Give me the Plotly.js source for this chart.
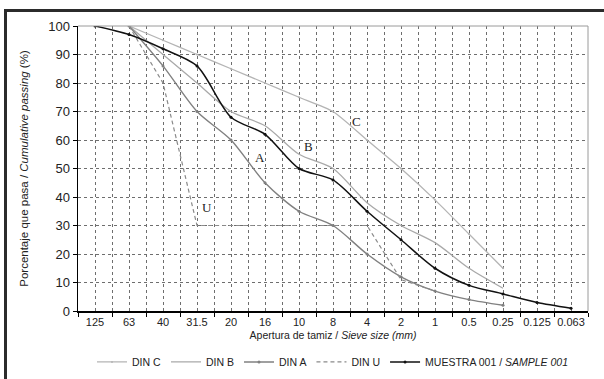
<!DOCTYPE html>
<html>
<head>
<meta charset="utf-8">
<script src="https://cdn.plot.ly/plotly-3.0.1.min.js"></script>
<style>
  html, body { margin: 0; padding: 0; background: #fff; }
  #wrap { position: relative; width: 604px; height: 379px; overflow: hidden; }
  #chart { width: 604px; height: 379px; }
  #frame { position: absolute; left: 4px; top: 9px; width: 610px; height: 380px;
           border-top: 3px solid #2b2b2b; border-left: 3px solid #2b2b2b; pointer-events: none; }
</style>
</head>
<body>
<div id="wrap">
  <div id="chart"></div>
  <div id="frame"></div>
</div>
<script>
// Sieve sizes (mm), as tick labels, from coarse to fine
const sieves = ['125', '63', '40', '31.5', '20', '16', '10', '8', '4', '2', '1', '0.5', '0.25', '0.125', '0.063'];

// Cumulative passing (%) per sieve
const dinC    = [null, 100, 95, 90, 85, 80, 75, 70, 60, 50, 39, 27, 15, null, null];
const dinB    = [null, 100, 90, 80, 70, 65, 55, 50, 38, 30, 24, 15, 8, null, null];
const dinA    = [null, 100, 86, 70, 60, 45, 35, 30, 20, 12, 7, 4, 2, null, null];
const dinU    = [null, 100, 80, 30, 30, 30, 30, 30, 30, 11, 7, null, null, null, null];
const muestra = [100, 97, 92, 86, 68, 62, 50, 46, 35, 25, 15, 9, 6, 3, 1];

const seriesNames = ['DIN C', 'DIN B', 'DIN A', 'DIN U', 'MUESTRA 001 / <i>SAMPLE 001</i>'];

// Curve labels drawn on the chart
const curveLabels = ['A', 'B', 'C', 'U'];

const xIdx = sieves.map((s, i) => i);

const traces = [
  { x: xIdx, y: dinC, name: seriesNames[0], mode: 'lines+markers',
    line: { color: '#b4b4b4', width: 1.3, shape: 'spline', smoothing: 0.6 },
    marker: { size: 2, color: '#b4b4b4' } },
  { x: xIdx, y: dinB, name: seriesNames[1], mode: 'lines',
    line: { color: '#a9a9a9', width: 1.3, shape: 'spline', smoothing: 0.8 } },
  { x: xIdx, y: dinA, name: seriesNames[2], mode: 'lines+markers',
    line: { color: '#808080', width: 1.4, shape: 'spline', smoothing: 0.8 },
    marker: { size: 3, color: '#808080' } },
  { x: xIdx, y: dinU, name: seriesNames[3], mode: 'lines',
    line: { color: '#8a8a8a', width: 1.2, dash: '4px,3px' } },
  { x: xIdx, y: muestra, name: seriesNames[4], mode: 'lines+markers',
    line: { color: '#111111', width: 1.5, shape: 'spline', smoothing: 0.8 },
    marker: { size: 3, color: '#111111' } }
];

// Label anchor positions (sieve index, % passing)
const labelX = [4.85, 6.27, 7.7, 3.3];
const labelY = [53.8, 57.6, 66.6, 36.4];

const annotations = curveLabels.map((t, i) => ({
  x: labelX[i], y: labelY[i], xref: 'x', yref: 'y', text: t, showarrow: false,
  font: { family: 'Liberation Serif, Times New Roman, serif', size: 13, color: '#222' }
}));

const gridStyle = { gridcolor: '#6e6e6e', gridwidth: 1, griddash: 'dot' };

const layout = {
  width: 604, height: 379,
  margin: { l: 78, r: 16, t: 26, b: 68, autoexpand: false },
  paper_bgcolor: '#fff', plot_bgcolor: '#fff',
  font: { family: 'Liberation Sans, Arial, sans-serif', color: '#222', size: 11 },
  showlegend: true,
  legend: { orientation: 'h', x: 0.5, xanchor: 'center', xref: 'paper',
            y: 0.045, yanchor: 'middle', yref: 'container',
            font: { size: 10.5, color: '#222' }, itemwidth: 30, traceorder: 'normal' },
  xaxis: Object.assign({
    range: [-0.5, 14.5], tickmode: 'array', tickvals: xIdx, ticktext: sieves,
    ticks: '', showline: true, linecolor: '#000', linewidth: 2, zeroline: false,
    showgrid: true, tickfont: { size: 11, color: '#222' }, automargin: false,
    minor: { tick0: 0.5, dtick: 1, ticks: 'outside', ticklen: 4, tickcolor: '#000',
             showgrid: true, gridcolor: '#6e6e6e', gridwidth: 1, griddash: 'dot' },
    title: { text: 'Apertura de tamiz / <i>Sieve size (mm)</i>', font: { size: 10.5, color: '#222' }, standoff: 4 },
    fixedrange: true
  }, gridStyle),
  yaxis: Object.assign({
    range: [0, 100], dtick: 10, ticks: 'outside', ticklen: 4, tickcolor: '#000',
    showline: true, linecolor: '#000', linewidth: 1.5, zeroline: false, showgrid: true,
    tickfont: { size: 13, color: '#222' }, automargin: false,
    title: { text: 'Porcentaje que pasa / <i>Cumulative passing</i> (%)', font: { size: 11.5, color: '#222' }, standoff: 17 },
    fixedrange: true
  }, gridStyle),
  shapes: [
    { type: 'path', xref: 'paper', yref: 'paper', path: 'M 0 1 L 1 1 L 1 0',
      line: { color: '#9a9a9a', width: 1 }, layer: 'above' }
  ],
  annotations: annotations
};

Plotly.newPlot('chart', traces, layout, { displayModeBar: false, staticPlot: true });
</script>
</body>
</html>
